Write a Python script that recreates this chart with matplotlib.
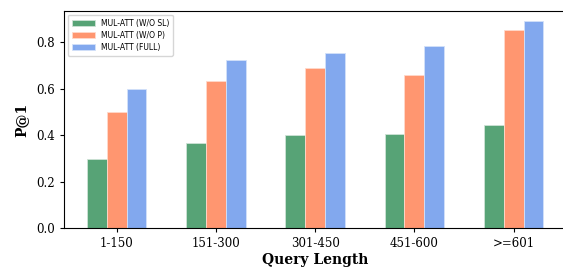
import numpy as np
from matplotlib import pyplot as plt

groups = ['1-150', '151-300', '301-450', '451-600', '>=601']
no_sl = [0.298, 0.368, 0.400, 0.405, 0.445]
no_p = [0.500, 0.634, 0.690, 0.660, 0.852]
full = [0.597, 0.725, 0.752, 0.785, 0.890]

x = np.arange(len(groups))
w = 0.2

fig = plt.figure(figsize=(5.63, 2.71), dpi=100)
ax = fig.add_axes([0.1137, 0.1587, 0.892, 0.8007])

ax.bar(x - w, no_sl, w, color='#57a376', edgecolor='#cfe3d6', linewidth=0.6, label='MUL-ATT (W/O SL)')
ax.bar(x, no_p, w, color='#ff9670', edgecolor='#ffd9cb', linewidth=0.6, label='MUL-ATT (W/O P)')
ax.bar(x + w, full, w, color='#82a8ee', edgecolor='#d3e1f9', linewidth=0.6, label='MUL-ATT (FULL)')

ax.set_xticks(x)
ax.set_xticklabels(groups, family='DejaVu Serif', fontsize=8.5)
ax.set_yticks([0.0, 0.2, 0.4, 0.6, 0.8])
ax.set_yticklabels(['0.0', '0.2', '0.4', '0.6', '0.8'], family='DejaVu Serif', fontsize=8.5)
ax.set_xlabel('Query Length', family='DejaVu Serif', fontweight='bold', fontsize=10, labelpad=2)
ax.set_ylabel('P@1', family='DejaVu Serif', fontweight='bold', fontsize=10, labelpad=6)
ax.tick_params(length=3, width=0.8)

ax.legend(loc='upper left', fontsize=5.5, handlelength=3, borderpad=0.5, labelspacing=0.4)

plt.savefig('out.png', dpi=100)
